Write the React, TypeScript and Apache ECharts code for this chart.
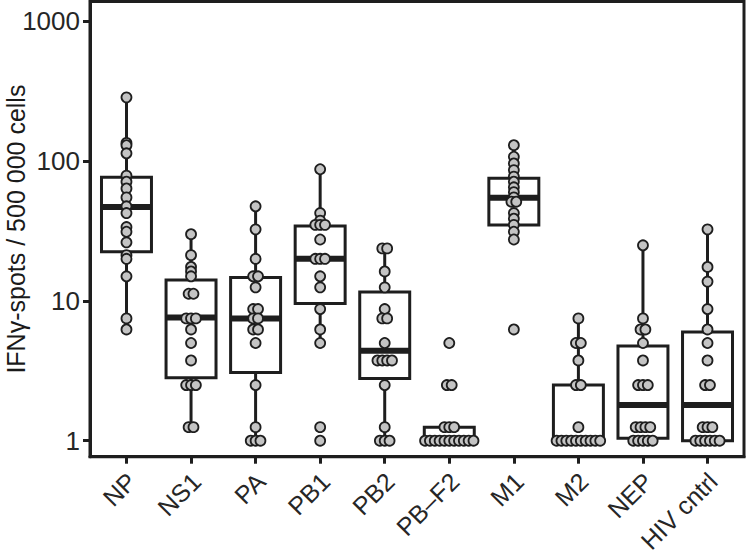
import React, { useEffect, useRef } from "react";
import * as echarts from "echarts";

const categories = ["NP", "NS1", "PA", "PB1", "PB2", "PB\u2013F2", "M1", "M2", "NEP", "HIV cntrl"];

// individual donor values (IFNγ spots / 500 000 cells)
const npVals = [286, 135, 130, 113.75, 78.75, 71.25, 63.75, 55, 47.5, 42.5, 33.75, 31.25, 26.25, 21.25, 20, 15, 7.5, 6.25];
const ns1Vals = [30, 21.25, 17.5, 16.25, 15, 11.25, 11.25, 7.5, 7.5, 7.5, 6.25, 5, 3.75, 2.5, 2.5, 2.5, 1.25, 1.25];
const paVals = [47.5, 32.5, 20, 15, 15, 12.5, 8.75, 8.75, 7.5, 7.5, 6.25, 6.25, 5, 2.5, 1.25, 1, 1, 1];
const pb1Vals = [87.5, 42.5, 37.5, 35, 35, 35, 27.5, 20, 20, 20, 15, 12.5, 8.75, 6.25, 5, 1.25, 1];
const pb2Vals = [23.75, 23.75, 16.25, 12.5, 8.75, 7.5, 7.5, 5, 3.75, 3.75, 3.75, 3.75, 2.5, 1.25, 1, 1, 1];
const pbf2Vals = [5, 2.5, 2.5, 1.25, 1.25, 1.25, 1, 1, 1, 1, 1, 1, 1, 1, 1, 1, 1];
const m1Vals = [130, 107.5, 96.25, 86.25, 77.5, 71.25, 65, 60, 55, 51.25, 51.25, 42.5, 38.75, 35, 31.25, 27.5, 6.25];
const m2Vals = [7.5, 5, 5, 3.75, 2.5, 2.5, 1.25, 1, 1, 1, 1, 1, 1, 1, 1, 1, 1];
const nepVals = [25, 7.5, 6.25, 6.25, 5, 3.75, 2.5, 2.5, 2.5, 1.25, 1.25, 1.25, 1.25, 1, 1, 1, 1, 1];
const hivVals = [32.5, 17.5, 13.75, 8.75, 6.25, 5, 3.75, 2.5, 2.5, 1.25, 1.25, 1.25, 1, 1, 1, 1, 1, 1];

const pointSets = [npVals, ns1Vals, paVals, pb1Vals, pb2Vals, pbf2Vals, m1Vals, m2Vals, nepVals, hivVals];

// box statistics: lower whisker, Q1, median, Q3, upper whisker
const whiskerLow = [6.25, 1.25, 1, 5, 1, 1, 27.5, 1, 1, 1];
const q1Vals = [22.5, 2.82, 3.07, 9.6, 2.79, 1, 34.9, 1, 1.04, 1];
const medianVals = [47, 7.6, 7.5, 20, 4.4, 1, 54.7, 1, 1.8, 1.8];
const q3Vals = [76.6, 14.1, 14.7, 34.3, 11.6, 1.25, 75.4, 2.5, 4.76, 6.0];
const whiskerHigh = [286, 30, 47.5, 87.5, 23.75, 1.25, 130, 7.5, 25, 32.5];

const yTicks = [1, 10, 100, 1000];

const INK = "#1e1e1e";
const TEXT = "#262626";
const FONT = "'Liberation Sans', Arial, Helvetica, sans-serif";
const BOX_HALF = 0.387;
const DOT_STEP = 0.075;

export default function App() {
  const ref = useRef<HTMLDivElement>(null);

  useEffect(() => {
    if (!ref.current) return;
    const chart = echarts.init(ref.current, undefined, { renderer: "svg" });

    const boxData = categories.map((_, i) => [i, whiskerLow[i], q1Vals[i], medianVals[i], q3Vals[i], whiskerHigh[i]]);

    const pointData: number[][] = [];
    pointSets.forEach((vals, i) => {
      const groups = new Map<number, number>();
      vals.forEach((v) => groups.set(v, (groups.get(v) || 0) + 1));
      groups.forEach((n, v) => {
        for (let k = 0; k < n; k++) {
          pointData.push([i + (k - (n - 1) / 2) * DOT_STEP, v]);
        }
      });
    });

    chart.setOption({
      animation: false,
      grid: {
        left: 90,
        right: 3,
        top: 1.5,
        bottom: 98.3,
        show: true,
        borderColor: INK,
        borderWidth: 3,
        backgroundColor: "transparent",
        containLabel: false,
        outerBoundsMode: "none",
      },
      xAxis: {
        type: "value",
        min: -0.565,
        max: 9.565,
        splitLine: { show: false },
        axisLine: { show: true, onZero: false, lineStyle: { color: INK, width: 3 } },
        axisTick: {
          show: true,
          length: 7,
          lineStyle: { color: INK, width: 3 },
          customValues: categories.map((_, i) => i),
        },
        axisLabel: {
          customValues: categories.map((_, i) => i),
          formatter: (v: number) => categories[Math.round(v)] ?? "",
          rotate: 45,
          align: "right",
          verticalAlign: "top",
          padding: [0, 5, 0, 0],
          margin: 8,
          fontSize: 25,
          color: TEXT,
          fontFamily: FONT,
          hideOverlap: false,
        },
      },
      yAxis: {
        type: "log",
        logBase: 10,
        min: Math.pow(10, -0.1145),
        max: Math.pow(10, 3.142),
        splitLine: { show: false },
        axisLine: { show: true, onZero: false, lineStyle: { color: INK, width: 3 } },
        axisTick: {
          show: true,
          length: 7,
          lineStyle: { color: INK, width: 3 },
          customValues: yTicks,
        },
        axisLabel: {
          customValues: yTicks,
          formatter: (v: number) => String(Math.round(v)),
          margin: 10,
          fontSize: 26,
          color: TEXT,
          fontFamily: FONT,
        },
        name: "IFN\u03b3-spots / 500 000 cells",
        nameLocation: "middle",
        nameRotate: 90,
        nameGap: 62,
        nameMoveOverlap: false,
        nameTextStyle: { fontSize: 25, color: "#1a1a1a", fontFamily: FONT },
      },
      series: [
        {
          type: "custom",
          z: 2,
          data: boxData,
          encode: { x: 0, y: [1, 2, 3, 4, 5] },
          renderItem: (params: any, api: any) => {
            const i = api.value(0);
            const lo = api.value(1);
            const q1 = api.value(2);
            const med = api.value(3);
            const q3 = api.value(4);
            const hi = api.value(5);
            const tl = api.coord([i - BOX_HALF, q3]);
            const br = api.coord([i + BOX_HALF, q1]);
            const cx = api.coord([i, med])[0];
            const yHi = api.coord([i, hi])[1];
            const yLo = api.coord([i, lo])[1];
            const ml = api.coord([i - BOX_HALF, med]);
            const mr = api.coord([i + BOX_HALF, med]);
            const lineStyle = { stroke: INK, lineWidth: 3, fill: "none" };
            return {
              type: "group",
              children: [
                { type: "line", shape: { x1: cx, y1: yHi, x2: cx, y2: tl[1] }, style: lineStyle },
                { type: "line", shape: { x1: cx, y1: br[1], x2: cx, y2: yLo }, style: lineStyle },
                {
                  type: "rect",
                  shape: { x: tl[0], y: tl[1], width: br[0] - tl[0], height: br[1] - tl[1] },
                  style: { fill: "#ffffff", stroke: INK, lineWidth: 3 },
                },
                {
                  type: "line",
                  shape: { x1: ml[0], y1: ml[1], x2: mr[0], y2: mr[1] },
                  style: { stroke: INK, lineWidth: 6 },
                },
              ],
            };
          },
        },
        {
          type: "scatter",
          z: 3,
          data: pointData,
          symbol: "circle",
          symbolSize: 10,
          itemStyle: { color: "#c4c4c4", borderColor: INK, borderWidth: 1.8, opacity: 1 },
          emphasis: { disabled: true },
        },
      ],
    });

    return () => chart.dispose();
  }, []);

  return (
    <div
      ref={ref}
      style={{ position: "fixed", left: 0, top: 0, width: 747, height: 555, background: "#fff" }}
    />
  );
}
